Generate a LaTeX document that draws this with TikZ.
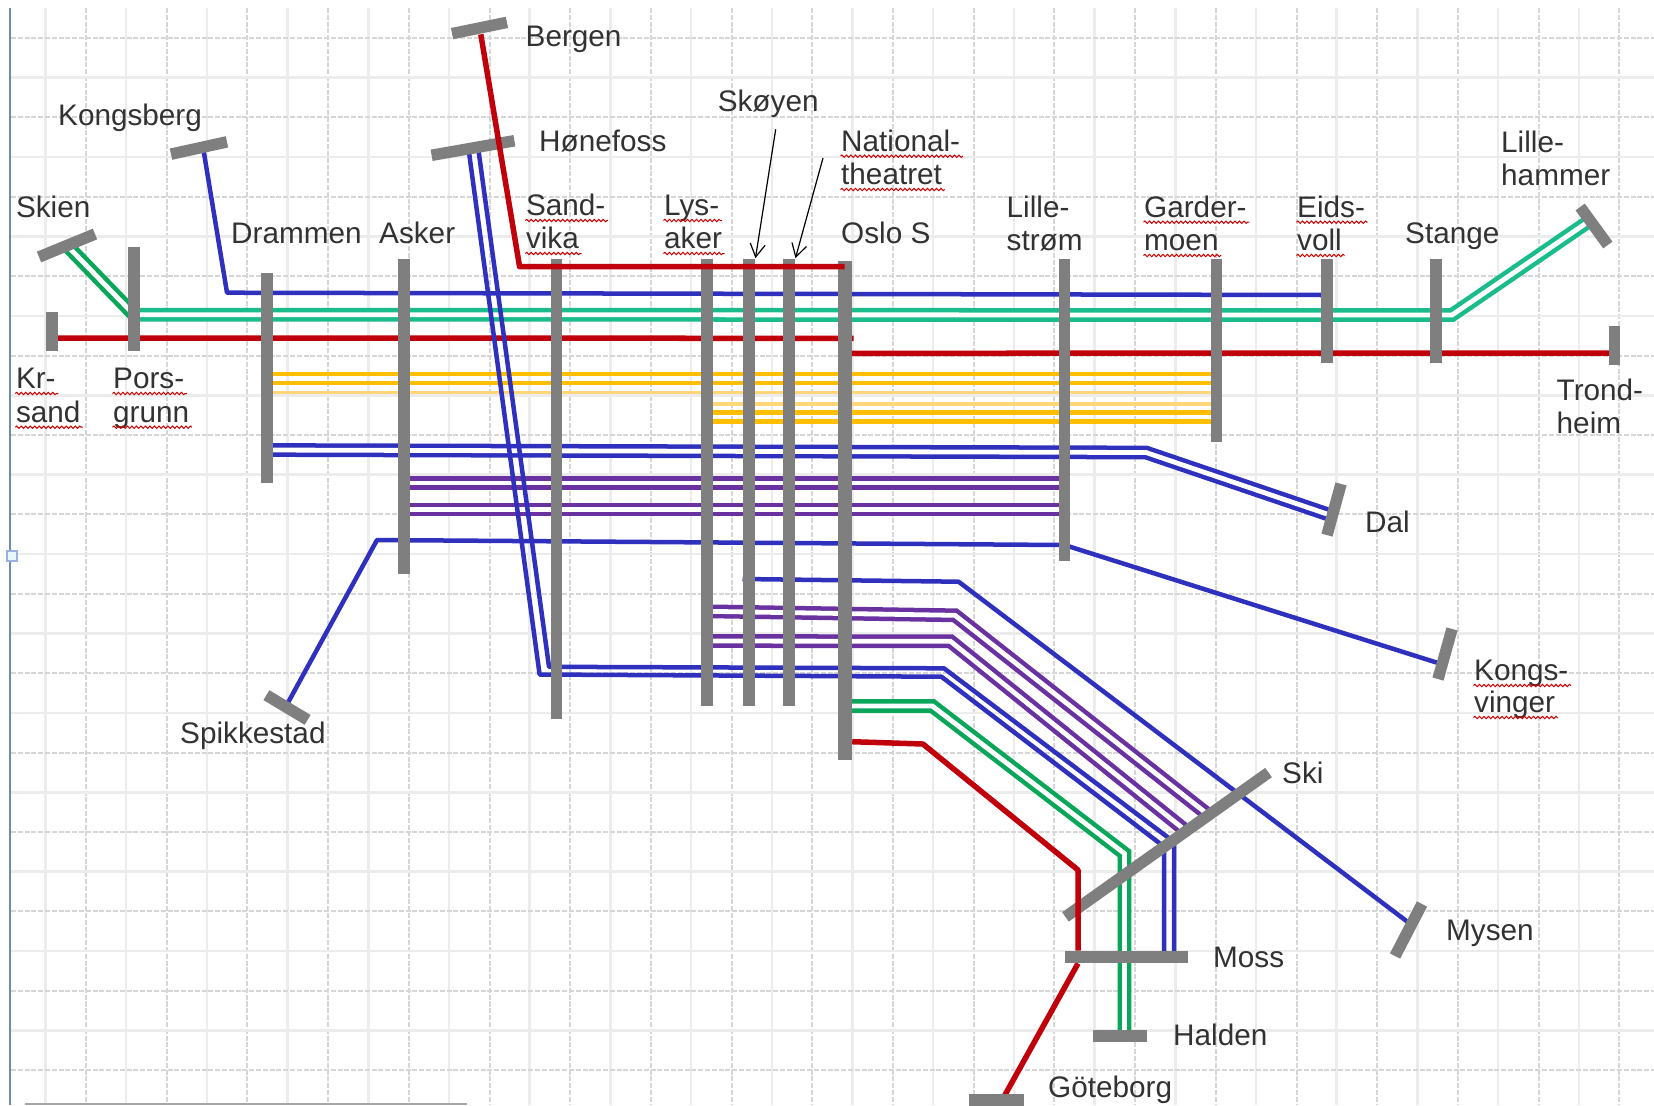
\documentclass[tikz,border=0pt]{standalone}
\usepackage{fontspec}
\setmainfont{Liberation Sans}
\usetikzlibrary{calc,arrows.meta,decorations.pathmorphing}
\definecolor{railgray}{RGB}{127,127,127}
\definecolor{railblue}{RGB}{48,48,190}
\definecolor{railred}{RGB}{192,0,10}
\definecolor{railteal}{RGB}{26,188,140}
\definecolor{railgreen}{RGB}{10,166,90}
\definecolor{railyellow}{RGB}{255,190,0}
\definecolor{railpale}{RGB}{255,215,120}
\definecolor{railpurple}{RGB}{105,50,160}
\definecolor{labelgray}{RGB}{50,50,50}
\definecolor{marginblue}{RGB}{110,140,165}
\pgfdeclarelayer{bars}
\pgfdeclarelayer{top}
\pgfsetlayers{main,bars,top}
\newcommand{\wavystn}[3]{%
    \node[stn] (#1) at (#2) {#3};
    \draw[wavy] ($(#1.base west)+(0,5)$) -- ($(#1.base east)+(2,5)$);}

\begin{document}
\begin{tikzpicture}[
        x=0.01cm, y=-0.01cm,
        railbar/.style={rectangle, fill=railgray, inner sep=0pt, minimum height=0.115cm},
        stn/.style={inner sep=0pt, anchor=base west, text=labelgray, xshift=-0.015cm, yshift=-0.005cm,
                    font=\fontsize{8.45}{9.47}\selectfont},
        wavy/.style={red!80!black, line width=0.01cm, decorate,
                     decoration={snake, segment length=0.045cm, amplitude=0.012cm}},
        gridsolid/.style={gray!15, line width=0.025cm},
        griddash/.style={gray!32, line width=0.02cm, dash pattern=on 0.05cm off 0.018cm},
        blurail/.style={railblue, line width=0.045cm, line join=round},
        redrail/.style={railred, line width=0.055cm, line join=round},
        yelrail/.style={railyellow, line width=0.045cm},
        palerail/.style={railpale, line width=0.035cm},
        pair/.style={line width=0.045cm, double=white, double distance=0.048cm},
        pointer/.style={-{Straight Barb[length=0.13cm,width=0.15cm]}, black, line width=0.012cm}
    ]
    \useasboundingbox (0,0) rectangle (1654,1105);

    %% ── Ruled paper ─────────────────────────────────────────────────────────
    \foreach \k in {0,...,19} {
        \draw[gridsolid] ({45.5+80.7*\k},8) -- ({45.5+80.7*\k},1105);
        \draw[griddash]  ({86+80.7*\k},8) -- ({86+80.7*\k},1105);
    }
    \foreach \k in {0,...,12} \draw[gridsolid] (11,{77.7+79.4*\k}) -- (1654,{77.7+79.4*\k});
    \foreach \k in {0,...,13} \draw[griddash]  (11,{38+79.4*\k}) -- (1654,{38+79.4*\k});
    \draw[marginblue, line width=0.025cm] (10,8) -- (10,1105);
    \draw[gray!70, line width=0.02cm] (25,1104) -- (467,1104);
    \node[draw=cyan!45!blue!40, fill=cyan!10, line width=0.015cm, inner sep=0pt,
          minimum size=0.1cm] (handle) at (12,556) {};

    %% ── Station bars ────────────────────────────────────────────────────────
    \begin{pgfonlayer}{bars}
    \node[railbar, rotate=90, minimum width=0.39cm] (krs) at (52,331.5) {};
    \node[railbar, rotate=90, minimum width=1.04cm] (por) at (134,299) {};
    \node[railbar, rotate=90, minimum width=2.10cm] (drm) at (267,378) {};
    \node[railbar, rotate=90, minimum width=3.15cm] (ask) at (404,416.5) {};
    \node[railbar, rotate=90, minimum width=4.60cm] (snd) at (556.5,489) {};
    \node[railbar, rotate=90, minimum width=4.47cm] (lys) at (707,482.5) {};
    \node[railbar, rotate=90, minimum width=4.47cm] (sky) at (749,482.5) {};
    \node[railbar, rotate=90, minimum width=4.47cm] (nat) at (789,482.5) {};
    \node[railbar, rotate=90, minimum width=4.99cm, minimum height=0.14cm] (osl) at (844.5,510.5) {};
    \node[railbar, rotate=90, minimum width=3.02cm] (lil) at (1064.5,410) {};
    \node[railbar, rotate=90, minimum width=1.83cm] (gar) at (1216.5,350.5) {};
    \node[railbar, rotate=90, minimum width=1.04cm] (eid) at (1327,311) {};
    \node[railbar, rotate=90, minimum width=1.04cm] (stg) at (1436,311) {};
    \node[railbar, rotate=90, minimum width=0.39cm] (trd) at (1614.5,345.5) {};
    \node[railbar, rotate=22.3, minimum width=0.605cm] (skn) at (67,245.5) {};
    \node[railbar, rotate=12.4, minimum width=0.573cm] (kgb) at (199,148) {};
    \node[railbar, rotate=10, minimum width=0.84cm] (hnf) at (473,148) {};
    \node[railbar, rotate=11.6, minimum width=0.56cm] (brg) at (479.5,28) {};
    \node[railbar, rotate=-54, minimum width=0.47cm] (lhm) at (1594,226) {};
    \node[railbar, rotate=74.6, minimum width=0.53cm] (dal) at (1334,509.5) {};
    \node[railbar, rotate=74.4, minimum width=0.52cm] (kvg) at (1445,654) {};
    \node[railbar, rotate=-31, minimum width=0.48cm] (spk) at (287,707.5) {};
    \node[railbar, rotate=35.4, minimum width=2.49cm] (ski) at (1167,844.7) {};
    \node[railbar, rotate=62.6, minimum width=0.586cm] (mys) at (1408.5,930) {};
    \node[railbar, minimum width=1.23cm] (mos) at (1126.5,957) {};
    \node[railbar, minimum width=0.54cm] (hal) at (1120,1036) {};
    \node[railbar, minimum width=0.55cm] (gbg) at (996.5,1100) {};
    \end{pgfonlayer}

    %% ── Bend points and free ends ───────────────────────────────────────────
    \coordinate (kgbbend) at (227,292.7);
    \coordinate (redstop) at (853.6,338.3);
    \coordinate (lhmbend) at (1452,315);
    \coordinate (dalbend) at (1146,452.5);
    \coordinate (spkbend) at (377,540);
    \coordinate (myshead) at (742.5,579);
    \coordinate (mysbend) at (958.6,581.7);
    \coordinate (pupbend) at (955,615.3);
    \coordinate (pdnbend) at (950.5,641.3);
    \coordinate (grnbend) at (932.3,706);
    \coordinate (grndrop) at (1124.5,853.5);
    \coordinate (redbend) at (922.9,744);
    \coordinate (reddrop) at (1078,870);
    \coordinate (hnflow)  at (539.6,674.5);
    \coordinate (hnfhigh) at (549,666.8);
    \coordinate (bluleft) at (941.4,676.7);
    \coordinate (bluright) at (944,668.3);
    \coordinate (bludrpl) at (1164,846.6);
    \coordinate (bludrpr) at (1174,842);
    \coordinate (brgbend) at (519.6,266.7);
    \coordinate (skyhead) at (775.7,129.3);
    \coordinate (nathead) at (823,158);

    %% ── Lines through the city ──────────────────────────────────────────────
    %% yellow sets
    \draw[yelrail] (drm |- 0,374) -- (gar |- 0,374);
    \draw[yelrail] (drm |- 0,383) -- (gar |- 0,383);
    \draw[palerail] (drm |- 0,392.7) -- (gar |- 0,392.7);
    \draw[palerail] (lys |- 0,404) -- (gar |- 0,404);
    \draw[yelrail] (lys |- 0,412.7) -- (gar |- 0,412.7);
    \draw[yelrail] (lys |- 0,421.7) -- (gar |- 0,421.7);

    %% green pair to Skien and Lillehammer
    \draw[pair, railgreen] (skn.center) -- (por |- 0,314.7);
    \draw[pair, railteal] (por |- 0,314.7) -- (lhmbend) -- ($(lhm.west)!0.36!(lhm.east)$);

    %% single blue and red
    \draw[blurail] ($(kgb.west)!0.57!(kgb.east)$) -- (kgbbend) -- (eid |- 0,295);
    \draw[redrail] (krs |- 0,338) -- (redstop);
    \draw[redrail] (osl |- 0,353.3) -- (trd |- 0,353);
    \draw[blurail] ($(spk.west)!0.47!(spk.east)$) -- (spkbend) -- (lil |- 0,545)
        -- ($(kvg.west)!0.3!(kvg.east)$);
    \draw[blurail] (myshead) -- (mysbend) -- ($(mys.west)!0.6!(mys.east)$);

    %% double tracks
    \draw[pair, railblue] (drm |- 0,450) -- (dalbend) -- ($(dal.west)!0.38!(dal.east)$);
    \draw[pair, railpurple] (ask |- 0,483) -- (lil |- 0,483);
    \draw[pair, railpurple] (ask |- 0,509.5) -- (lil |- 0,509.5);
    \draw[pair, railpurple] (lys |- 0,611.3) -- (pupbend) -- ($(ski.west)!0.704!(ski.east)$);
    \draw[pair, railpurple] (lys |- 0,641) -- (pdnbend) -- ($(ski.west)!0.594!(ski.east)$);
    \draw[pair, railgreen] (osl |- 0,706) -- (grnbend) -- (grndrop) -- (1124.5,1036);

    %% Hønefoss pair, over the others
    \draw[blurail] ($(hnf.west)!0.447!(hnf.east)$) -- (hnflow) -- (bluleft) -- (bludrpl)
        -- (bludrpl |- mos);
    \draw[blurail] ($(hnf.west)!0.56!(hnf.east)$) -- (hnfhigh) -- (bluright) -- (bludrpr)
        -- (bludrpr |- mos);

    %% Bergen and the line south, above the bars
    \begin{pgfonlayer}{top}
    \draw[redrail] (brg.south) -- (brgbend) -- (osl |- brgbend);
    \draw[redrail] (osl.south |- 0,741.7) -- (redbend) -- (reddrop) -- (reddrop |- mos.north);
    \end{pgfonlayer}
    \draw[redrail] (reddrop |- mos.south) -- ($(gbg.west)!0.6!(gbg.east)$);

    %% arrows down to the stops
    \draw[pointer] (skyhead) -- (sky.south east);
    \draw[pointer] (nathead) -- (nat.south east);

    %% ── Station names ───────────────────────────────────────────────────────
    \node[stn] (lbrg) at (526.5,46) {Bergen};
    \node[stn] (lkgb) at (59,125) {Kongsberg};
    \node[stn] (lhnf) at (540,150.7) {Hønefoss};
    \node[stn] (lskn) at (16.8,216.7) {Skien};
    \node[stn] (ldrm) at (232,242.7) {Drammen};
    \node[stn] (lask) at (380,242.7) {Asker};
    \node[stn] (lsky) at (718.6,110.7) {Skøyen};
    \wavystn{lnata}{842,150.7}{National-}
    \wavystn{lnatb}{842,184}{theatret}
    \wavystn{lsnda}{526.8,215}{Sand-}
    \wavystn{lsndb}{526.8,248}{vika}
    \wavystn{llysa}{665,215}{Lys-}
    \wavystn{llysb}{665,248}{aker}
    \node[stn] (losl) at (842,242.7) {Oslo S};
    \node[stn] (llila) at (1007.5,216.7) {Lille-};
    \node[stn] (llilb) at (1007.5,250) {strøm};
    \wavystn{lgara}{1145,216.7}{Garder-}
    \wavystn{lgarb}{1145,250}{moen}
    \wavystn{leida}{1298,216.7}{Eids-}
    \wavystn{leidb}{1298,250}{voll}
    \node[stn] (lstg) at (1406,242.7) {Stange};
    \node[stn] (llhma) at (1502,151.7) {Lille-};
    \node[stn] (llhmb) at (1502,185) {hammer};
    \node[stn] (ltrda) at (1557.5,400) {Trond-};
    \node[stn] (ltrdb) at (1557.5,433) {heim};
    \wavystn{lkrsa}{16.8,388}{Kr-}
    \wavystn{lkrsb}{16.8,421.7}{sand}
    \wavystn{lpora}{114,388}{Pors-}
    \wavystn{lporb}{114,421.7}{grunn}
    \node[stn] (ldal) at (1366,531.7) {Dal};
    \wavystn{lkvga}{1475,680}{Kongs-}
    \wavystn{lkvgb}{1475,712}{vinger}
    \node[stn] (lspk) at (181,742.5) {Spikkestad};
    \node[stn] (lski) at (1283,782.7) {Ski};
    \node[stn] (lmys) at (1447,940) {Mysen};
    \node[stn] (lmos) at (1214,966.7) {Moss};
    \node[stn] (lhal) at (1174,1045) {Halden};
    \node[stn] (lgbg) at (1049,1097) {Göteborg};
\end{tikzpicture}
\end{document}
